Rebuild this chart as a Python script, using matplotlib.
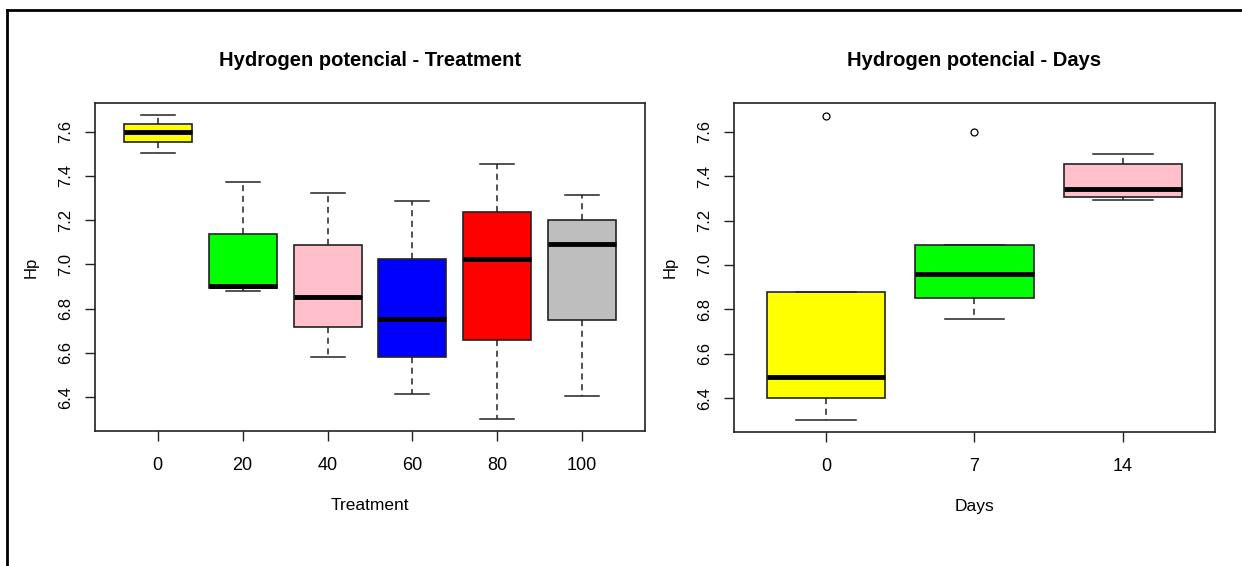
import matplotlib.pyplot as plt
from matplotlib.lines import Line2D

# Hydrogen potential by treatment (box stats)
treat_labels = ["0", "20", "40", "60", "80", "100"]
treat_lo = [7.506, 6.882, 6.583, 6.415, 6.300, 6.403]
treat_q1 = [7.553, 6.895, 6.718, 6.583, 6.659, 6.747]
treat_med = [7.600, 6.901, 6.855, 6.753, 7.023, 7.091]
treat_q3 = [7.635, 7.138, 7.086, 7.023, 7.239, 7.203]
treat_hi = [7.675, 7.373, 7.325, 7.289, 7.455, 7.314]
treat_colors = ["#FFFF00", "#00FF00", "#FFC0CB", "#0000FF", "#FF0000", "#BEBEBE"]

# Hydrogen potential by days
days_labels = ["0", "7", "14"]
days_lo = [6.300, 6.755, 7.292]
days_q1 = [6.400, 6.850, 7.308]
days_med = [6.493, 6.960, 7.343]
days_q3 = [6.877, 7.092, 7.455]
days_hi = [6.877, 7.092, 7.500]
days_out = [[7.671], [7.600], []]
days_colors = ["#FFFF00", "#00FF00", "#FFC0CB"]

narrow = ["Liberation Sans Narrow", "Liberation Sans", "DejaVu Sans"]
regular = ["Liberation Sans", "DejaVu Sans"]

fig = plt.figure(figsize=(12.42, 5.66), dpi=100)
ax1 = fig.add_axes([95/1242, 1-431/566, 550/1242, 328/566])
ax2 = fig.add_axes([734/1242, 1-432/566, 481/1242, 329/566])


def draw(ax, labels, lo, q1, med, q3, hi, colors, fliers, title, xlabel):
    stats = []
    for i in range(len(labels)):
        stats.append(dict(whislo=lo[i], q1=q1[i], med=med[i], q3=q3[i],
                          whishi=hi[i], fliers=fliers[i] if fliers else []))
    bp = ax.bxp(stats, positions=range(1, len(labels) + 1), widths=0.8,
                patch_artist=True, showfliers=True,
                boxprops=dict(edgecolor="#222222", linewidth=1.2),
                medianprops=dict(color="black", linewidth=3.5, solid_capstyle="butt"),
                whiskerprops=dict(color="#222222", linewidth=1.1, linestyle=(0, (4, 3))),
                capprops=dict(color="#222222", linewidth=1.1),
                capwidths=0.4,
                flierprops=dict(marker="o", markerfacecolor="none",
                                markeredgecolor="black", markersize=5, markeredgewidth=0.9))
    for patch, c in zip(bp["boxes"], colors):
        patch.set_facecolor(c)
    n = len(labels)
    pad = n * 0.04
    ax.set_xlim(0.5 - pad, n + 0.5 + pad)
    ax.set_ylim(6.247, 7.73)
    ax.set_xticks(range(1, n + 1))
    ax.set_xticklabels(labels, family=narrow, fontsize=13)
    ax.set_yticks([6.4, 6.6, 6.8, 7.0, 7.2, 7.4, 7.6])
    ax.set_yticklabels(["6.4", "6.6", "6.8", "7.0", "7.2", "7.4", "7.6"],
                       family=regular, fontsize=12, rotation=90, va="center")
    ax.tick_params(axis="x", length=7, width=1, pad=12, color="#222222")
    ax.tick_params(axis="y", length=7, width=1, pad=9, color="#222222")
    for s in ax.spines.values():
        s.set_linewidth(1.2)
        s.set_color("#222222")
    ax.set_title(title, family=narrow, fontsize=14.5, fontweight="bold", pad=27)
    ax.set_xlabel(xlabel, family=narrow, fontsize=12.5, labelpad=17)
    ax.set_ylabel("Hp", family=regular, fontsize=12, labelpad=14)


draw(ax1, treat_labels, treat_lo, treat_q1, treat_med, treat_q3, treat_hi,
     treat_colors, None, "Hydrogen potencial - Treatment", "Treatment")
draw(ax2, days_labels, days_lo, days_q1, days_med, days_q3, days_hi,
     days_colors, days_out, "Hydrogen potencial - Days", "Days")

# outer frame (top and left edges only visible)
fig.add_artist(Line2D([7/1242, 7/1242], [0, 1-10/566], color="black", linewidth=2,
                      transform=fig.transFigure))
fig.add_artist(Line2D([7/1242, 1], [1-10/566, 1-10/566], color="black", linewidth=2,
                      transform=fig.transFigure))

fig.savefig("out.png", dpi=100)
